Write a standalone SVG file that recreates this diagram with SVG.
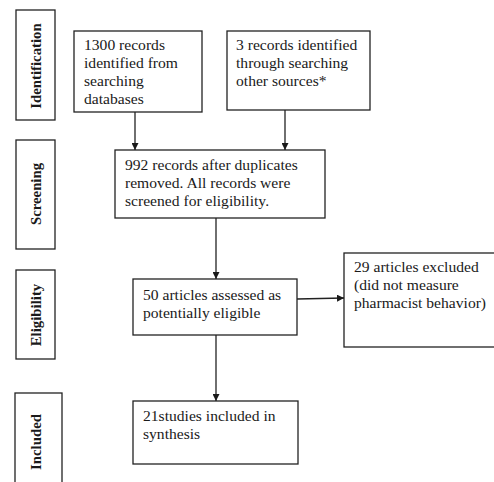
<svg xmlns="http://www.w3.org/2000/svg" width="494" height="482" viewBox="0 0 494 482">
<defs>
<marker id="ah" viewBox="0 0 10 10" refX="10" refY="5" markerWidth="7" markerHeight="7" markerUnits="userSpaceOnUse" orient="auto">
<path d="M0,0 L10,5 L0,10 z" fill="#1a1a1a"/>
</marker>
</defs>
<style>
rect{fill:#fff;stroke:#222;stroke-width:1.3}
.t{font-family:'Liberation Serif','Times New Roman',serif;font-size:15.6px;fill:#1a1a1a}
.l{font-family:'Liberation Serif','Times New Roman',serif;font-size:14.8px;font-weight:bold;fill:#1a1a1a;text-anchor:middle}
.c line{stroke:#222;stroke-width:1.3;marker-end:url(#ah)}
</style>
<rect x="0" y="0" width="494" height="482" style="fill:#fff;stroke:none"/>
<g id="stage-identification"><rect x="16" y="10" width="39" height="110"/><text class="l" transform="translate(41,66) rotate(-90)">Identification</text></g>
<g id="stage-screening"><rect x="16" y="140" width="39" height="109"/><text class="l" transform="translate(41,194) rotate(-90)">Screening</text></g>
<g id="stage-eligibility"><rect x="16" y="270" width="39" height="89"/><text class="l" transform="translate(41,315) rotate(-90)">Eligibility</text></g>
<g id="stage-included"><rect x="15" y="393" width="47" height="95"/><text class="l" transform="translate(41,442) rotate(-90)">Included</text></g>
<g id="n1300"><rect x="74" y="31" width="128" height="81"/><text class="t"><tspan x="84" y="50">1300 records</tspan><tspan x="84" y="68">identified from</tspan><tspan x="84" y="86">searching</tspan><tspan x="84" y="104">databases</tspan></text></g>
<g id="n3"><rect x="227" y="31" width="143" height="79"/><text class="t"><tspan x="236" y="50">3 records identified</tspan><tspan x="236" y="68">through searching</tspan><tspan x="236" y="86">other sources*</tspan></text></g>
<g id="n992"><rect x="115" y="150" width="210" height="68"/><text class="t"><tspan x="125" y="170">992 records after duplicates</tspan><tspan x="125" y="188">removed. All records were</tspan><tspan x="125" y="206">screened for eligibility.</tspan></text></g>
<g id="n50"><rect x="133" y="279" width="164" height="56"/><text class="t"><tspan x="143" y="300">50 articles assessed as</tspan><tspan x="143" y="318">potentially eligible</tspan></text></g>
<g id="n29"><rect x="344" y="253" width="160" height="94"/><text class="t"><tspan x="354" y="272">29 articles excluded</tspan><tspan x="354" y="290">(did not measure</tspan><tspan x="354" y="308">pharmacist behavior)</tspan></text></g>
<g id="n21"><rect x="133" y="401" width="165" height="63"/><text class="t"><tspan x="143" y="421">21studies included in</tspan><tspan x="143" y="439">synthesis</tspan></text></g>
<g id="connectors" class="c">
<line x1="135" y1="112" x2="135" y2="150"/>
<line x1="285" y1="110" x2="285" y2="150"/>
<line x1="216" y1="218" x2="216" y2="279"/>
<line x1="216" y1="335" x2="216" y2="401"/>
<line x1="297" y1="299" x2="344" y2="298"/>
</g>
</svg>
